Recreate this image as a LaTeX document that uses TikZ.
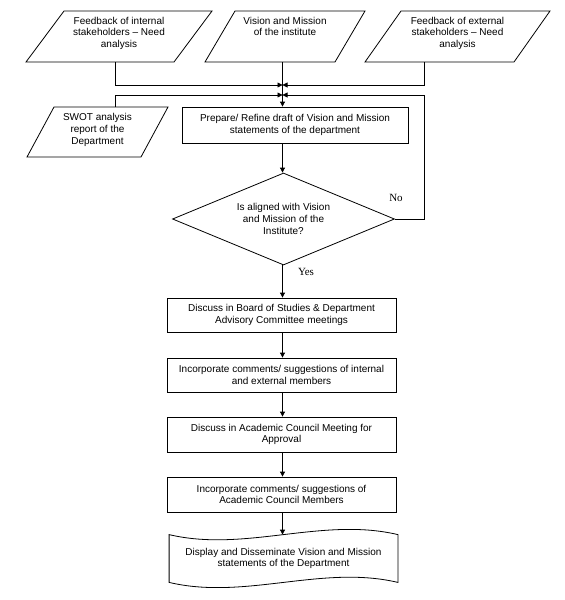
\documentclass[tikz,border=0pt]{standalone}
\usepackage{fontspec}
\setmainfont{Liberation Sans}
\newfontfamily\ynfont{Liberation Serif}
\usetikzlibrary{calc, shapes.geometric, arrows.meta}

% parallelogram round an (invisible) node: name, slant
\newcommand{\paraframe}[2]{%
	\draw (#1.south west) -- ($ (#1.south east) + (-#2,0) $) -- (#1.north east) -- ($ (#1.north west) + (#2,0) $) -- cycle;}

\begin{document}
\begin{tikzpicture}[x=1pt, y=1pt, line width=0.8pt,
	font=\fontsize{10}{11.7}\selectfont,
	para/.style={rectangle, inner sep=0pt, outer sep=0pt, minimum height=51pt},
	ptxt/.style={anchor=north, inner sep=0pt, align=center},
	proc/.style={rectangle, draw, inner sep=0pt, minimum width=229pt, minimum height=35pt, align=center},
	yn/.style={inner sep=0pt, font=\ynfont\fontsize{11}{13}\selectfont}]
	\useasboundingbox (0,0) rectangle (565,-600);
	
	\coordinate (ax) at (282.5,0);
	\coordinate (lx) at (115,0);
	\coordinate (rx) at (424.5,0);
	\coordinate (j1) at (282.5,-85);
	\coordinate (j2) at (282.5,-95);
	
	\begin{scope}
		\node[para, minimum width=186pt] (fbint) at (119,-36.5) {};
		\node[para, minimum width=160pt] (vmi) at (285,-36.5) {};
		\node[para, minimum width=185pt] (fbext) at (457.5,-36.5) {};
		\node[para, minimum width=141pt, minimum height=50pt] (swot) at (97.5,-132) {};
		\paraframe{fbint}{38}
		\paraframe{vmi}{30}
		\paraframe{fbext}{36}
		\paraframe{swot}{27}
		
		\node[ptxt] (fbint-t) at ($ (fbint.north) + (0,-5.5) $) {Feedback of internal\\stakeholders – Need\\analysis};
		\node[ptxt] (vmi-t) at ($ (vmi.north) + (0,-5.5) $) {Vision and Mission\\of the institute};
		\node[ptxt] (fbext-t) at ($ (fbext.north) + (0,-5.5) $) {Feedback of external\\stakeholders – Need\\analysis};
		\node[ptxt] (swot-t) at ($ (swot.north) + (0,-6) $) {SWOT analysis\\report of the\\Department};
	\end{scope}
	
	\begin{scope}
		\node[proc, minimum width=226pt, minimum height=36pt] (prep) at (295,-125) {Prepare/ Refine draft of Vision and Mission\\statements of the department};
		\node[diamond, draw, shape aspect=2.4, inner sep=0pt, minimum width=222pt, minimum height=92pt, align=center] (chk) at (283.5,-219) {Is aligned with Vision\\and Mission of the\\Institute?};
		\node[proc, minimum height=34pt] (bos) at (281.5,-315) {Discuss in Board of Studies \& Department\\Advisory Committee meetings};
		\node[proc, minimum height=34pt] (incint) at (281.5,-375) {Incorporate comments/ suggestions of internal\\and external members};
		\node[proc] (acm) at (281.5,-434.5) {Discuss in Academic Council Meeting for\\Approval};
		\node[proc] (incac) at (281.5,-494.5) {Incorporate comments/ suggestions of\\Academic Council Members};
		\node[inner sep=0pt, minimum width=228pt, minimum height=47pt, align=center] (disp) at (283.5,-558.5) {Display and Disseminate Vision and Mission\\statements of the Department};
		\draw (disp.north west) .. controls +(76,-18) and +(-76,18) .. (disp.north east) -- (disp.south east) .. controls +(-76,18) and +(76,-18) .. (disp.south west) -- cycle;
	\end{scope}
	
	\node[yn] (no) at (396,-198) {No};
	\node[yn] (yes) at (306,-272) {Yes};
	
	\begin{scope}[-{Triangle[length=5pt,width=5pt]}]
		\draw (fbint.south -| lx) |- (j1);
		\draw (fbext.south -| rx) |- (j1);
		\draw (swot.north -| lx) |- (j2);
		\draw (chk.east) -| (j2 -| rx) -- (j2);
		\draw (vmi.south -| ax) -- (prep.north -| ax);
		\draw (prep.south -| ax) -- (chk.north -| ax);
		\draw (chk.south -| ax) -- (bos.north -| ax);
		\draw (bos.south -| ax) -- (incint.north -| ax);
		\draw (incint.south -| ax) -- (acm.north -| ax);
		\draw (acm.south -| ax) -- (incac.north -| ax);
		\draw (incac.south -| ax) -- (disp.north -| ax);
	\end{scope}
\end{tikzpicture}
\end{document}
